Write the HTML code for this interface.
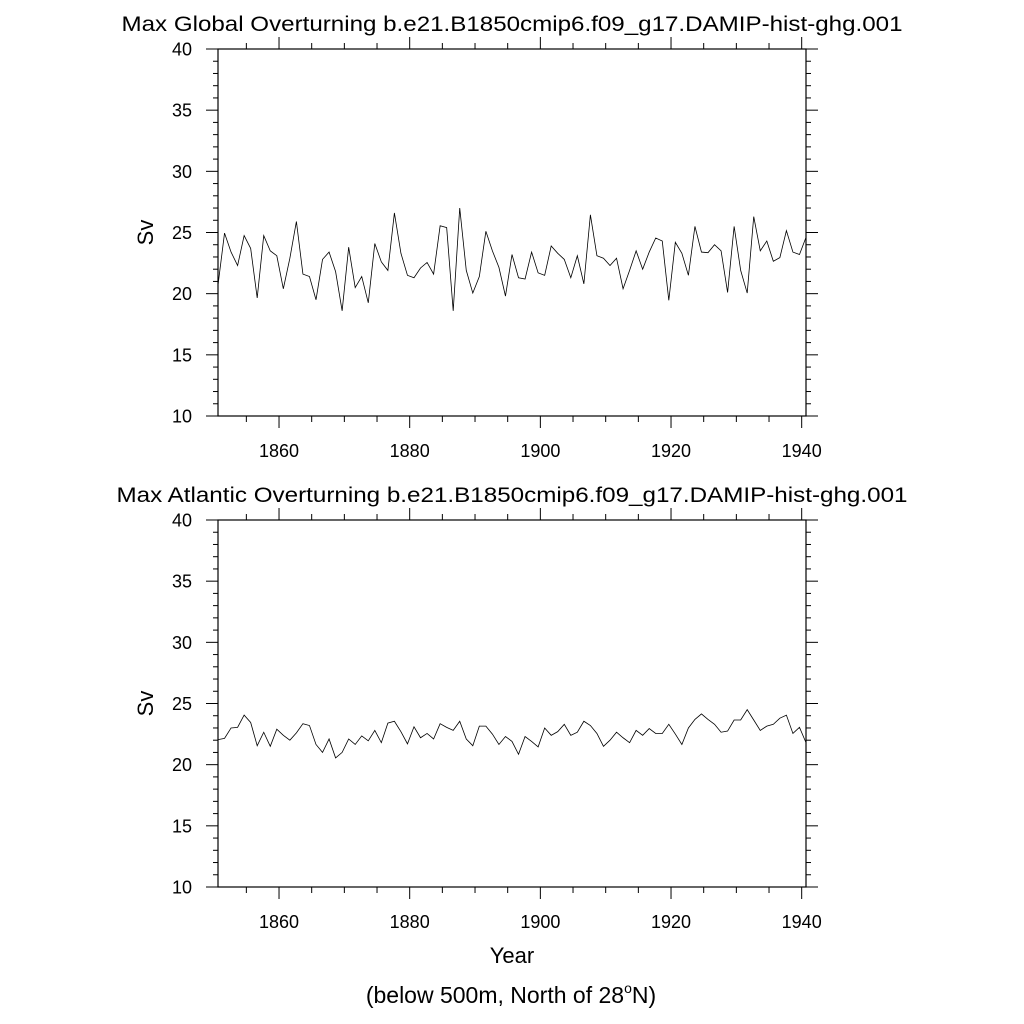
<!DOCTYPE html>
<html><head><meta charset="utf-8"><style>
html,body{margin:0;padding:0;background:#fff;}
svg{display:block;font-family:"Liberation Sans",Arial,sans-serif;}
</style></head><body>
<svg id="chart" width="1024" height="1024" viewBox="0 0 1024 1024" xmlns="http://www.w3.org/2000/svg">
<rect width="1024" height="1024" fill="#fff"/>
<text x="512" y="31" font-size="21" text-anchor="middle" textLength="781" lengthAdjust="spacingAndGlyphs">Max Global Overturning b.e21.B1850cmip6.f09_g17.DAMIP-hist-ghg.001</text>
<text x="512" y="502" font-size="21" text-anchor="middle" textLength="791" lengthAdjust="spacingAndGlyphs">Max Atlantic Overturning b.e21.B1850cmip6.f09_g17.DAMIP-hist-ghg.001</text>
<text x="512" y="963" font-size="22" text-anchor="middle">Year</text>
<text x="511" y="1003" font-size="23" text-anchor="middle">(below 500m, North of 28<tspan font-size="14" dy="-10">o</tspan><tspan dy="10">N)</tspan></text>
<g id="p1"></g>
<g id="p2"></g>
</svg>
<script>
const years0 = 1850.66;
const xTicks = [1860, 1880, 1900, 1920, 1940];
const yTicks = [10, 15, 20, 25, 30, 35, 40];
const globalValues = [20.7,24.95,23.4,22.3,24.75,23.7,19.65,24.75,23.5,23.1,20.4,22.9,25.9,21.6,21.4,19.5,22.8,23.4,21.8,18.6,23.8,20.5,21.4,19.25,24.1,22.6,21.9,26.6,23.3,21.5,21.3,22.1,22.55,21.6,25.55,25.4,18.6,27.0,21.9,20.05,21.4,25.1,23.5,22.15,19.8,
23.2,21.3,21.2,23.4,21.7,21.5,23.9,23.3,22.8,21.3,23.1,20.8,26.45,23.1,22.9,22.3,22.9,20.4,21.9,23.5,22.0,23.4,24.55,24.3,19.45,24.2,23.3,21.5,25.5,23.4,23.35,24.0,23.5,20.1,25.5,21.9,20.05,26.3,23.5,24.3,22.65,22.95,25.15,23.4,23.2,24.6];
const atlanticValues = [22.05,22.15,23.0,23.05,24.05,23.45,21.55,22.65,21.5,22.9,22.4,22.0,22.6,23.35,23.2,21.65,21.0,22.1,20.55,21.0,22.1,21.65,22.35,21.95,22.8,21.8,23.4,23.55,22.7,21.7,23.1,22.2,22.55,22.1,23.35,23.05,22.8,23.55,22.1,21.55,23.15,23.15,22.5,21.65,22.3,
21.9,20.85,22.3,21.9,21.45,23.0,22.4,22.7,23.3,22.4,22.65,23.55,23.2,22.55,21.5,22.0,22.65,22.2,21.8,22.8,22.4,22.95,22.55,22.55,23.3,22.5,21.65,23.0,23.7,24.15,23.7,23.3,22.65,22.75,23.65,23.65,24.5,23.65,22.8,23.15,23.3,23.8,24.05,22.55,23.05,21.8];

const NS = "http://www.w3.org/2000/svg";
const L = 218, R = 806, XMIN = years0, XMAX = years0 + 90;
function mk(tag, attrs, parent) {
  const e = document.createElementNS(NS, tag);
  for (const k in attrs) e.setAttribute(k, attrs[k]);
  parent.appendChild(e);
  return e;
}
function drawPanel(g, top, bottom, values, prefix) {
  const xs = v => L + (v - XMIN) / (XMAX - XMIN) * (R - L);
  const ys = v => bottom - (v - 10) / 30 * (bottom - top);
  const frame = mk('rect', {x: L, y: top, width: R - L, height: bottom - top, fill: 'none', stroke: '#000', 'stroke-width': 1.2}, g);
  
  
  for (let v = 10; v <= 40; v++) {
    const major = v % 5 === 0;
    const len = major ? 12 : 5;
    const y = ys(v);
    const t1 = mk('line', {x1: L - len, x2: L, y1: y, y2: y, stroke: '#000', 'stroke-width': 1}, g);
    
    
    const t2 = mk('line', {x1: R, x2: R + len, y1: y, y2: y, stroke: '#000', 'stroke-width': 1}, g);
    
    
  }
  yTicks.forEach(v => {
    const t = mk('text', {x: 192, y: ys(v) + 6.5, 'font-size': 18, 'text-anchor': 'end'}, g);
    
    
    t.textContent = v;
  });
  for (let v = 1855; v <= 1940; v += 5) {
    const major = v % 20 === 0;
    const len = major ? 12 : 6;
    const x = xs(v);
    const b = mk('line', {x1: x, x2: x, y1: bottom, y2: bottom + len, stroke: '#000', 'stroke-width': 1}, g);
    
    
    const tp = mk('line', {x1: x, x2: x, y1: top - len, y2: top, stroke: '#000', 'stroke-width': 1}, g);
    
    
  }
  xTicks.forEach(v => {
    const t = mk('text', {x: xs(v), y: bottom + 41, 'font-size': 18, 'text-anchor': 'middle'}, g);
    
    
    t.textContent = v;
  });
  const yl = mk('text', {x: 0, y: 0, 'font-size': 22, 'text-anchor': 'middle', transform: `translate(153,${(top + bottom) / 2}) rotate(-90)`}, g);
  
  
  yl.textContent = 'Sv';
  const pts = values.map((v, i) => xs(XMIN + i).toFixed(2) + ',' + ys(v).toFixed(2)).join(' ');
  const line = mk('polyline', {points: pts, fill: 'none', stroke: '#000', 'stroke-width': 0.8}, g);
  
  
}
const p1 = document.getElementById('p1');


const p2 = document.getElementById('p2');


drawPanel(p1, 49, 416, globalValues, 'global');
drawPanel(p2, 520, 887, atlanticValues, 'atlantic');
</script>
</body></html>
